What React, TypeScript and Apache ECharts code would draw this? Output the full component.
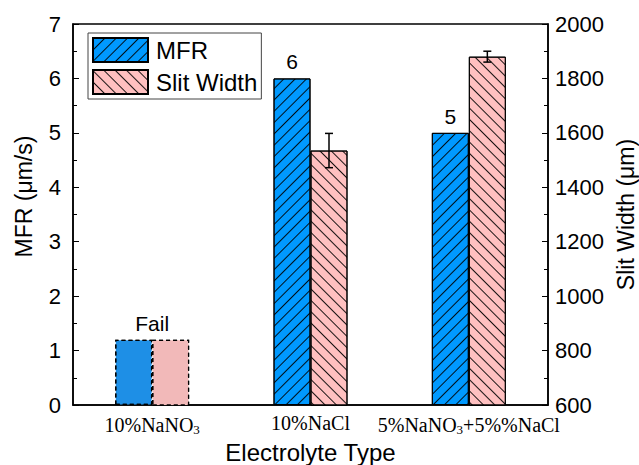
import React, { useEffect, useRef } from "react";
import * as echarts from "echarts";

const categories = ["10%NaNO{sub|3}", "10%NaCl", "5%NaNO{sub|3}+5%%NaCl"];
const mfrValues = [1.2, 6, 5];
const slitValues = [840, 1535, 1880];
const slitErrors = [0, 63, 20];
const mfrLabels = ["Fail", "6", "5"];
const leftTicks = { min: 0, max: 7, interval: 1 };
const rightTicks = { min: 600, max: 2000, interval: 200 };

const BAR_W = 37;

export default function App() {
  const ref = useRef<HTMLDivElement>(null);
  useEffect(() => {
    if (!ref.current) return;
    const chart = echarts.init(ref.current, null, { renderer: "svg" });
    const sans = "Liberation Sans, Arial, sans-serif";
    const serif = "Liberation Serif, Times New Roman, serif";
    const blueDecal = {
      symbol: "rect",
      color: "rgba(0,0,0,0.9)",
      dashArrayX: [1, 0],
      dashArrayY: [1, 7],
      rotation: -Math.PI / 4,
    };
    const pinkDecal = {
      symbol: "rect",
      color: "rgba(0,0,0,0.9)",
      dashArrayX: [1, 0],
      dashArrayY: [1, 7],
      rotation: Math.PI / 4,
    };
    chart.setOption({
      animation: false,
      grid: {
        left: 73,
        right: 91,
        top: 24,
        bottom: 60,
        show: true,
        borderColor: "#000",
        borderWidth: 1.5,
        backgroundColor: "transparent",
        containLabel: false,
        outerBoundsMode: "none",
      },
      legend: {
        left: 88,
        top: 33,
        orient: "vertical",
        icon: "rect",
        itemWidth: 55,
        itemHeight: 24,
        itemGap: 6,
        padding: [4, 4, 4, 4],
        borderColor: "#444",
        borderWidth: 1,
        textStyle: { fontFamily: sans, fontSize: 24, color: "#000", padding: [0, 0, 0, 3] },
        data: ["MFR", "Slit Width"],
      },
      xAxis: {
        type: "category",
        data: categories,
        axisLine: { lineStyle: { color: "#000", width: 1.5 } },
        axisTick: { show: false },
        axisLabel: {
          interval: 0,
          margin: 8,
          formatter: (v: string) => v,
          fontFamily: serif,
          fontSize: 20,
          color: "#000",
          rich: {
            sub: { fontFamily: serif, fontSize: 13, color: "#000", verticalAlign: "bottom", padding: [10, 0, 0, 0] },
          },
        },
        name: "Electrolyte Type",
        nameLocation: "middle",
        nameGap: 35,
        nameTextStyle: { fontFamily: sans, fontSize: 24, color: "#000" },
      },
      yAxis: [
        {
          type: "value",
          ...leftTicks,
          position: "left",
          axisLine: { show: true, lineStyle: { color: "#000", width: 1.5 } },
          axisTick: { show: true, inside: true, length: 6, lineStyle: { color: "#000" } },
          minorTick: { show: true, splitNumber: 2, length: 4, lineStyle: { color: "#000" } },
          splitLine: { show: false },
          axisLabel: { fontFamily: sans, fontSize: 22, color: "#000", margin: 12 },
          name: "MFR (μm/s)",
          nameLocation: "middle",
          nameGap: 38,
          nameTextStyle: { fontFamily: sans, fontSize: 23, color: "#000", padding: [0, 0, 0, 36] },
        },
        {
          type: "value",
          ...rightTicks,
          position: "right",
          axisLine: { show: true, lineStyle: { color: "#000", width: 1.5 } },
          axisTick: { show: true, inside: true, length: 6, lineStyle: { color: "#000" } },
          minorTick: { show: true, splitNumber: 2, length: 4, lineStyle: { color: "#000" } },
          splitLine: { show: false },
          axisLabel: { fontFamily: sans, fontSize: 22, color: "#000", margin: 7, formatter: (v: number) => String(v) },
          name: "Slit Width (μm)",
          nameLocation: "middle",
          nameGap: 62,
          nameRotate: 90,
          nameTextStyle: { fontFamily: sans, fontSize: 23, color: "#000" },
        },
      ],
      series: [
        {
          name: "MFR",
          type: "bar",
          yAxisIndex: 0,
          barWidth: BAR_W,
          barGap: "0%",
          itemStyle: { color: "#0099FF", borderColor: "#000", borderWidth: 1, decal: blueDecal },
          data: mfrValues.map((v, i) =>
            i === 0
              ? {
                  value: v,
                  itemStyle: { color: "#1E8FE6", borderColor: "#000", borderWidth: 1.2, borderType: [4, 3], decal: { symbol: "none" } },
                  label: { show: true, position: "top", offset: [BAR_W / 2, 0], formatter: mfrLabels[i] },
                }
              : { value: v, label: { show: true, position: "top", formatter: mfrLabels[i] } }
          ),
          label: { fontFamily: sans, fontSize: 21, color: "#000", distance: 6 },
        },
        {
          name: "Slit Width",
          type: "bar",
          yAxisIndex: 1,
          barWidth: BAR_W,
          barGap: "0%",
          itemStyle: { color: "#FFC0C0", borderColor: "#000", borderWidth: 1, decal: pinkDecal },
          data: slitValues.map((v, i) =>
            i === 0
              ? {
                  value: v,
                  itemStyle: { color: "#F2B9B9", borderColor: "#000", borderWidth: 1.2, borderType: [4, 3], decal: { symbol: "none" } },
                }
              : v
          ),
        },
        {
          name: "err",
          type: "custom",
          yAxisIndex: 1,
          z: 10,
          data: slitValues.map((v, i) => [i, v - slitErrors[i], v + slitErrors[i]]),
          renderItem: (params: any, api: any) => {
            const i = api.value(0);
            if (slitErrors[i] === 0) return null;
            const lo = api.coord([i, api.value(1)]);
            const hi = api.coord([i, api.value(2)]);
            const x = lo[0] + BAR_W / 2;
            const cap = 4;
            const st = { stroke: "#000", lineWidth: 1.5 };
            return {
              type: "group",
              children: [
                { type: "line", shape: { x1: x, y1: lo[1], x2: x, y2: hi[1] }, style: st },
                { type: "line", shape: { x1: x - cap, y1: lo[1], x2: x + cap, y2: lo[1] }, style: st },
                { type: "line", shape: { x1: x - cap, y1: hi[1], x2: x + cap, y2: hi[1] }, style: st },
              ],
            };
          },
        },
      ],
    });
    return () => chart.dispose();
  }, []);
  return <div ref={ref} style={{ width: 639, height: 465, position: "absolute", left: 0, top: 0 }} />;
}
